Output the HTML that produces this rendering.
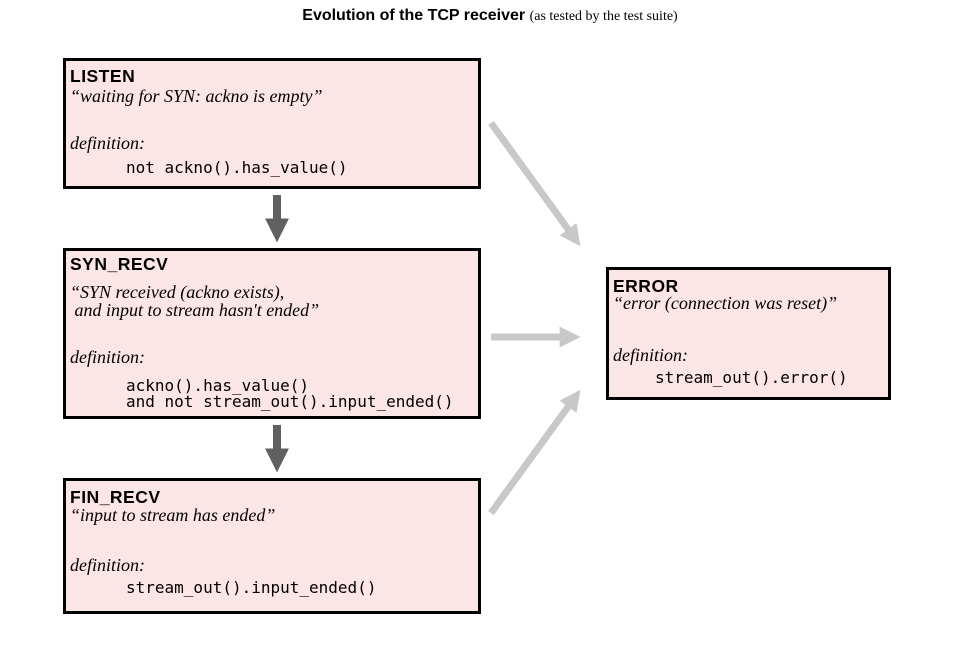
<!DOCTYPE html>
<html><head><style>
body{margin:0;width:980px;height:645px;background:#fff;position:relative;overflow:hidden}
.t{position:absolute;top:7px;left:0;width:980px;text-align:center;font-family:"Liberation Sans",sans-serif;font-weight:900;font-size:16px}
.t span{font-family:"Liberation Serif",serif;font-weight:normal;font-size:14px}
.b{position:absolute;background:#fce5e5;border:3px solid #000;box-sizing:border-box}
.l{position:absolute;white-space:pre;line-height:20px}
.h{font-family:"Liberation Sans",sans-serif;font-weight:900;font-size:17.5px;letter-spacing:0.5px}
.q{font-family:"Liberation Serif",serif;font-style:italic;font-size:18px}
.m{font-family:"DejaVu Sans Mono",monospace;font-size:16px}
svg{position:absolute;left:0;top:0}
</style></head><body>
<div class="t">Evolution of the TCP receiver <span>(as tested by the test suite)</span></div>
<svg width="980" height="645">
<defs>
<marker id="g" markerWidth="3" markerHeight="3" refX="1.2" refY="1.5" orient="auto"><path d="M0,0L3,1.5L0,3z" fill="#c8c8c8"/></marker>
<marker id="d" markerWidth="3" markerHeight="3" refX="1.2" refY="1.5" orient="auto"><path d="M0,0L3,1.5L0,3z" fill="#606060"/></marker>
</defs>
<line x1="277" y1="195" x2="277" y2="228" stroke="#606060" stroke-width="8" marker-end="url(#d)"/>
<line x1="277" y1="425" x2="277" y2="458" stroke="#606060" stroke-width="8" marker-end="url(#d)"/>
<line x1="491" y1="123" x2="573" y2="236" stroke="#c8c8c8" stroke-width="7" marker-end="url(#g)"/>
<line x1="491" y1="337" x2="568" y2="337" stroke="#c8c8c8" stroke-width="7" marker-end="url(#g)"/>
<line x1="491" y1="513" x2="573" y2="400" stroke="#c8c8c8" stroke-width="7" marker-end="url(#g)"/>
</svg>
<div class="b" style="left:63px;top:58px;width:418px;height:131px"></div>
<div class="l h" style="left:70px;top:66px">LISTEN</div>
<div class="l q" style="left:70px;top:86px">“waiting for SYN: ackno is empty”</div>
<div class="l q" style="left:70px;top:133px">definition:</div>
<div class="l m" style="left:126px;top:158px">not ackno().has_value()</div>

<div class="b" style="left:63px;top:248px;width:418px;height:171px"></div>
<div class="l h" style="left:70px;top:254px">SYN_RECV</div>
<div class="l q" style="left:70px;top:282px">“SYN received (ackno exists),</div>
<div class="l q" style="left:70px;top:300px"> and input to stream hasn't ended”</div>
<div class="l q" style="left:70px;top:347px">definition:</div>
<div class="l m" style="left:126px;top:376px">ackno().has_value()</div>
<div class="l m" style="left:126px;top:392px">and not stream_out().input_ended()</div>

<div class="b" style="left:63px;top:478px;width:418px;height:136px"></div>
<div class="l h" style="left:70px;top:487px">FIN_RECV</div>
<div class="l q" style="left:70px;top:505px">“input to stream has ended”</div>
<div class="l q" style="left:70px;top:555px">definition:</div>
<div class="l m" style="left:126px;top:578px">stream_out().input_ended()</div>

<div class="b" style="left:606px;top:267px;width:285px;height:133px"></div>
<div class="l h" style="left:613px;top:276px">ERROR</div>
<div class="l q" style="left:613px;top:293px">“error (connection was reset)”</div>
<div class="l q" style="left:613px;top:345px">definition:</div>
<div class="l m" style="left:655px;top:368px">stream_out().error()</div>
</body></html>
